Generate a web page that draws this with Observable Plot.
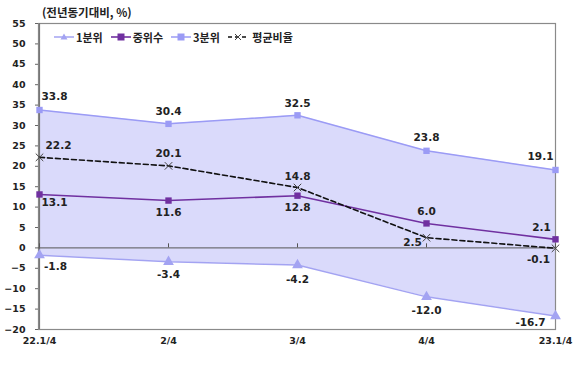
<!DOCTYPE html>
<html>
<head>
<meta charset="utf-8">
<script src="https://cdn.jsdelivr.net/npm/d3@7"></script>
<script src="https://cdn.jsdelivr.net/npm/@observablehq/plot@0.6"></script>
<style>
  html, body { margin: 0; padding: 0; background: #fff; }
  #wrap { position: relative; width: 586px; height: 367px; font-family: "DejaVu Sans", "Noto Sans CJK KR", sans-serif; }
  #title { position: absolute; left: 42px; top: 4px; font-size: 11.5px; font-weight: bold; color: #222; font-family: "Noto Sans CJK KR", "DejaVu Sans", sans-serif; }
  #legend { position: absolute; left: 54px; top: 29px; display: flex; align-items: center; font-size: 11px; font-weight: bold; color: #222; font-family: "Noto Sans CJK KR", "DejaVu Sans", sans-serif; }
  #legend .item { display: flex; align-items: center; margin-right: 8px; }
  #legend svg { margin-right: 2px; }
</style>
</head>
<body>
<div id="wrap">
  <div id="chart"></div>
  <div id="title">(전년동기대비, %)</div>
  <div id="legend"></div>
</div>
<script>
const quarters = ["22.1/4", "2/4", "3/4", "4/4", "23.1/4"];
const q1 = [-1.8, -3.4, -4.2, -12.0, -16.7];      // 1분위
const median = [13.1, 11.6, 12.8, 6.0, 2.1];      // 중위수
const q3 = [33.8, 30.4, 32.5, 23.8, 19.1];        // 3분위
const avgRatio = [22.2, 20.1, 14.8, 2.5, -0.1];   // 평균비율
const yTicks = [-20, -15, -10, -5, 0, 5, 10, 15, 20, 25, 30, 35, 40, 45, 50, 55];
const seriesNames = ["1분위", "중위수", "3분위", "평균비율"];

const cLight = "#9b9bf5";
const cTri = "#a3a3f2";
const cMed = "#7030a0";
const cFill = "#dadafb";

const rows = quarters.map((q, i) => ({ q, q1: q1[i], med: median[i], q3: q3[i], avg: avgRatio[i] }));

// label offsets (layout only)
const off = {
  q3:  [[15, -13], [0, -12], [0, -12], [0, -13], [-15, -13]],
  q1:  [[16, 11], [0, 13], [0, 15], [0, 14], [-25, 7]],
  med: [[15, 8], [0, 12], [0, 12], [0, -12], [-14, -12]],
  avg: [[19, -12], [0, -12], [0, -11], [-14, 5], [-17, 11]]
};

function labelMarks(key) {
  return rows.map((r, i) => Plot.text([r], {
    x: "q", y: key, text: d => d[key].toFixed(1),
    dx: off[key][i][0], dy: off[key][i][1],
    fontSize: 10.5, fontWeight: "bold", fill: "#222", textAnchor: "middle"
  }));
}

const fontFam = "'DejaVu Sans', 'Noto Sans CJK KR', sans-serif";

const chart = Plot.plot({
  width: 586, height: 367,
  marginLeft: 38, marginRight: 31, marginTop: 23, marginBottom: 38,
  style: { fontFamily: fontFam, background: "transparent" },
  x: { type: "point", domain: quarters, padding: 0, label: null },
  y: { domain: [-20, 55], label: null },
  marks: [
    Plot.areaY(rows, { x: "q", y1: "q1", y2: "q3", fill: cFill }),
    Plot.frame({ stroke: "#8a8a8a", strokeWidth: 1.2 }),
    Plot.ruleX([quarters[0]], { stroke: "#777", strokeWidth: 1.2 }),
    Plot.ruleY([0], { stroke: "#555", strokeWidth: 1 }),
    Plot.ruleX(quarters, { x: d => d, y1: 0, y2: 1, stroke: "#555" }),
    Plot.axisY(yTicks, { tickSize: 3, tickPadding: 10, fontSize: 9.5, fontWeight: "bold", fill: "#222", stroke: "#666", label: null }),
    Plot.axisX(quarters, { tickSize: 0, tickPadding: 8, fontSize: 9.5, fontWeight: "bold", fill: "#222", label: null }),
    Plot.line(rows, { x: "q", y: "q3", stroke: cLight, strokeWidth: 1.5 }),
    Plot.line(rows, { x: "q", y: "q1", stroke: cTri, strokeWidth: 1.5 }),
    Plot.line(rows, { x: "q", y: "med", stroke: cMed, strokeWidth: 1.6 }),
    Plot.line(rows, { x: "q", y: "avg", stroke: "#111", strokeWidth: 1.6, strokeDasharray: "5,3" }),
    Plot.dot(rows, { x: "q", y: "q3", symbol: "square", r: 3.6, fill: cLight }),
    Plot.dot(rows, { x: "q", y: "q1", symbol: "triangle", r: 4, fill: cTri }),
    Plot.dot(rows, { x: "q", y: "med", symbol: "square", r: 3.6, fill: cMed }),
    Plot.dot(rows, { x: "q", y: "avg", symbol: "times", r: 3.5, stroke: "#444", strokeWidth: 1 }),
    ...labelMarks("q3"),
    ...labelMarks("q1"),
    ...labelMarks("med"),
    ...labelMarks("avg")
  ]
});
document.getElementById("chart").appendChild(chart);

// legend
const swatches = [
  `<svg width="20" height="10"><line x1="0" y1="5" x2="20" y2="5" stroke="${cTri}" stroke-width="1.5"/><path d="M10,1.5 L13.5,7.5 L6.5,7.5 Z" fill="${cTri}"/></svg>`,
  `<svg width="20" height="10"><line x1="0" y1="5" x2="20" y2="5" stroke="${cMed}" stroke-width="1.6"/><rect x="6.5" y="1.5" width="7" height="7" fill="${cMed}"/></svg>`,
  `<svg width="20" height="10"><line x1="0" y1="5" x2="20" y2="5" stroke="${cLight}" stroke-width="1.5"/><rect x="6.5" y="1.5" width="7" height="7" fill="${cLight}"/></svg>`,
  `<svg width="20" height="10"><line x1="0" y1="5" x2="20" y2="5" stroke="#111" stroke-width="1.5" stroke-dasharray="4,3"/><path d="M7,2 L13,8 M13,2 L7,8" stroke="#444" stroke-width="1"/></svg>`
];
const lg = document.getElementById("legend");
seriesNames.forEach((n, i) => {
  const it = document.createElement("div");
  it.className = "item";
  it.innerHTML = swatches[i] + `<span>${i === 3 ? "&nbsp;" : ""}${n}</span>`;
  lg.appendChild(it);
});
</script>
</body>
</html>
